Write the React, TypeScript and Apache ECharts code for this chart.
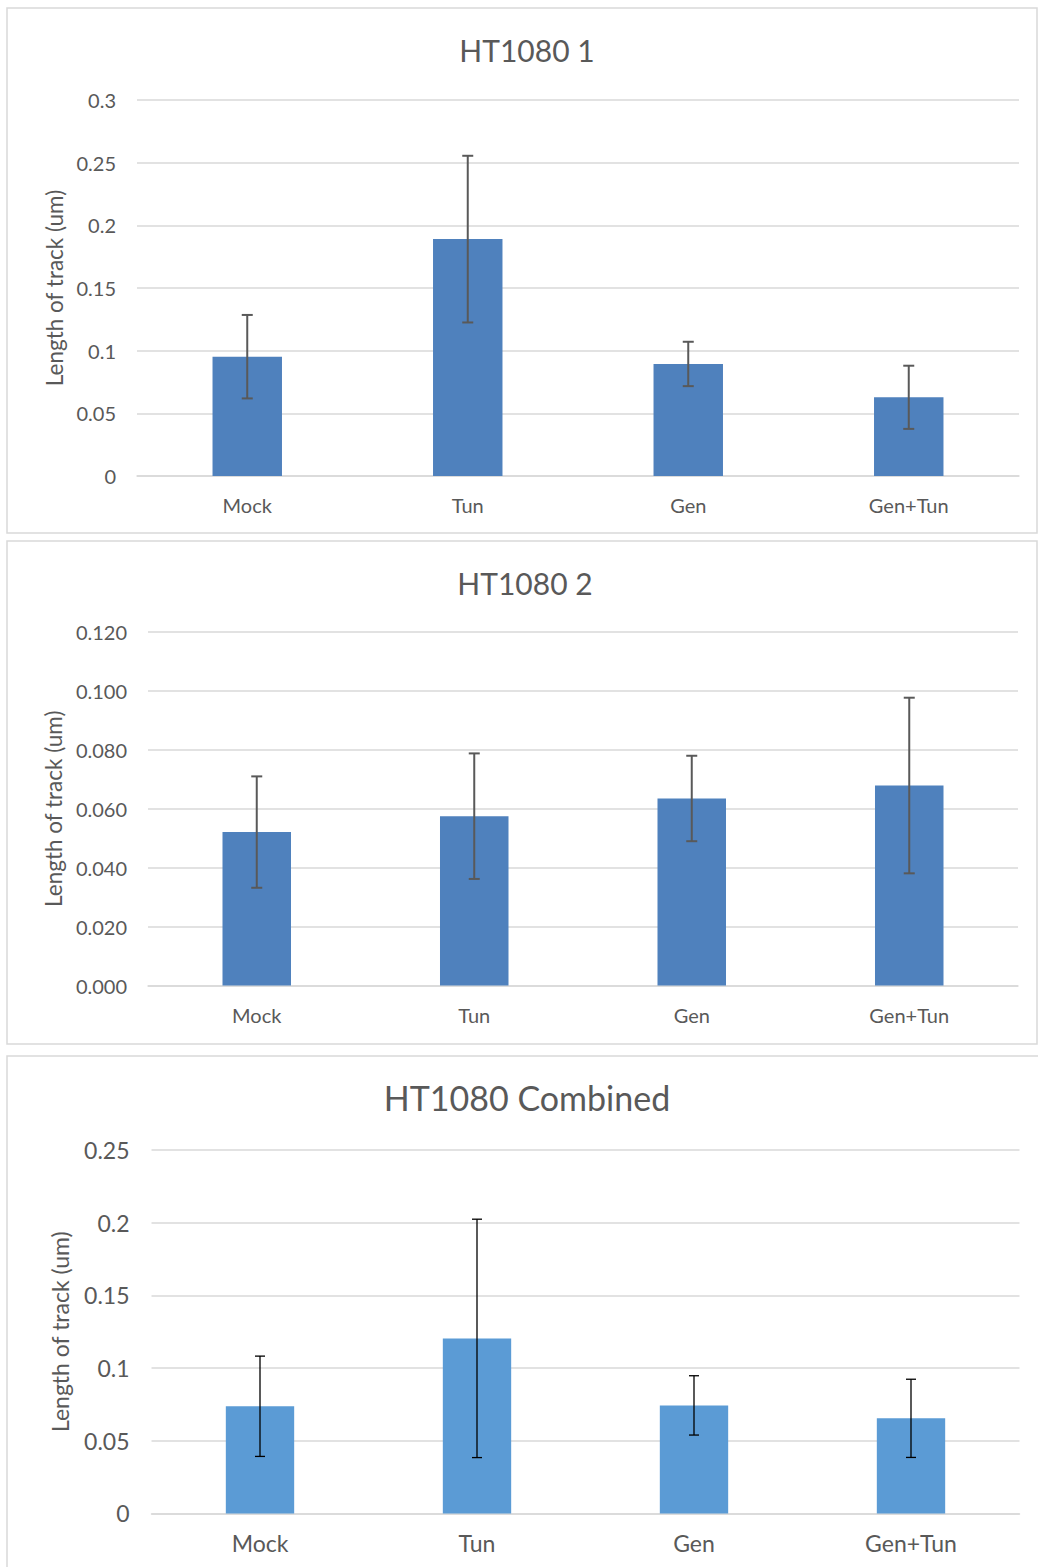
import React, { useEffect, useRef } from "react";
import * as echarts from "echarts";

const categories = ["Mock", "Tun", "Gen", "Gen+Tun"];

const p1Title = "HT1080 1";
const p1Means = [0.0952, 0.189, 0.0894, 0.0628];
const p1Errors = [0.0333, 0.0665, 0.0177, 0.0252];

const p2Title = "HT1080 2";
const p2Means = [0.0521, 0.0575, 0.0635, 0.0679];
const p2Errors = [0.0189, 0.0213, 0.0145, 0.0298];

const p3Title = "HT1080 Combined";
const p3Means = [0.0737, 0.1204, 0.0743, 0.0654];
const p3Errors = [0.0345, 0.082, 0.0204, 0.0269];

const yName = "Length of track (um)";

const FONT = "Lato, 'Open Sans', sans-serif";
const TXT = "#595959";
const GRID = "#d9d9d9";

type Panel = {
  title: string;
  means: number[];
  errors: number[];
  grid: { left: number; top: number; width: number; height: number };
  yMax: number;
  yInterval: number;
  fmt: (v: number) => string;
  barColor: string;
  errColor: string;
  errWidth: number;
  capW: number;
  tickFont: number;
  catFont: number;
  nameFont: number;
  nameGap: number;
  labelMargin: number;
  catMargin: number;
};

const panels: Panel[] = [
  {
    title: p1Title,
    means: p1Means,
    errors: p1Errors,
    grid: { left: 137, top: 100, width: 882, height: 376 },
    yMax: 0.3,
    yInterval: 0.05,
    fmt: (v) => String(+v.toFixed(2)),
    barColor: "#4f81bd",
    errColor: "#595959",
    errWidth: 2,
    capW: 11,
    tickFont: 20,
    catFont: 20,
    nameFont: 22.5,
    nameGap: 70.5,
    labelMargin: 21,
    catMargin: 19,
  },
  {
    title: p2Title,
    means: p2Means,
    errors: p2Errors,
    grid: { left: 148, top: 632, width: 870, height: 353.6 },
    yMax: 0.12,
    yInterval: 0.02,
    fmt: (v) => v.toFixed(3),
    barColor: "#4f81bd",
    errColor: "#595959",
    errWidth: 2,
    capW: 11,
    tickFont: 20,
    catFont: 20,
    nameFont: 22.5,
    nameGap: 81.5,
    labelMargin: 21,
    catMargin: 19,
  },
  {
    title: p3Title,
    means: p3Means,
    errors: p3Errors,
    grid: { left: 151.5, top: 1150, width: 868, height: 363.4 },
    yMax: 0.25,
    yInterval: 0.05,
    fmt: (v) => String(+v.toFixed(2)),
    barColor: "#5b9bd5",
    errColor: "#000000",
    errWidth: 1.3,
    capW: 10,
    tickFont: 23,
    catFont: 23,
    nameFont: 23,
    nameGap: 80,
    labelMargin: 22,
    catMargin: 18,
  },
];

const titlePos = [
  { x: 527, y: 50, size: 30 },
  { x: 525, y: 583, size: 30 },
  { x: 527, y: 1097, size: 34 },
];

const frames = [
  { x: 7, y: 8, w: 1030, h: 525 },
  { x: 7, y: 541, w: 1030, h: 503 },
  { x: 7, y: 1056, w: 1040, h: 520 },
];

export default function App() {
  const ref = useRef<HTMLDivElement>(null);
  useEffect(() => {
    if (!ref.current) return;
    const chart = echarts.init(ref.current, undefined, { renderer: "svg" });
    const grids: any[] = [];
    const xAxes: any[] = [];
    const yAxes: any[] = [];
    const series: any[] = [];
    panels.forEach((p, i) => {
      grids.push({ ...p.grid, containLabel: false });
      xAxes.push({
        type: "category",
        gridIndex: i,
        data: categories,
        axisTick: { show: false },
        axisLine: { show: true, lineStyle: { color: GRID, width: 1.5 } },
        axisLabel: {
          color: TXT,
          fontSize: p.catFont,
          fontFamily: FONT,
          margin: p.catMargin,
        },
      });
      yAxes.push({
        type: "value",
        gridIndex: i,
        min: 0,
        max: p.yMax,
        interval: p.yInterval,
        name: yName,
        nameLocation: "middle",
        nameRotate: 90,
        nameGap: p.nameGap,
        nameTextStyle: { color: TXT, fontSize: p.nameFont, fontFamily: FONT },
        axisLine: { show: false },
        axisTick: { show: false },
        splitLine: { show: true, lineStyle: { color: GRID, width: 1.5 } },
        axisLabel: {
          color: TXT,
          fontSize: p.tickFont,
          fontFamily: FONT,
          margin: p.labelMargin,
          formatter: p.fmt,
        },
      });
      series.push({
        type: "bar",
        xAxisIndex: i,
        yAxisIndex: i,
        data: p.means,
        barWidth: "31.5%",
        itemStyle: { color: p.barColor },
        z: 2,
      });
      series.push({
        type: "custom",
        xAxisIndex: i,
        yAxisIndex: i,
        z: 3,
        data: p.means.map((m, k) => [k, m - p.errors[k], m + p.errors[k]]),
        encode: { x: 0, y: [1, 2] },
        renderItem: (params: any, api: any) => {
          const x = api.value(0);
          const lo = api.coord([x, api.value(1)]);
          const hi = api.coord([x, api.value(2)]);
          const h = p.capW / 2;
          const style = { stroke: p.errColor, lineWidth: p.errWidth };
          return {
            type: "group",
            children: [
              { type: "line", shape: { x1: hi[0], y1: hi[1], x2: lo[0], y2: lo[1] }, style },
              { type: "line", shape: { x1: hi[0] - h, y1: hi[1], x2: hi[0] + h, y2: hi[1] }, style },
              { type: "line", shape: { x1: lo[0] - h, y1: lo[1], x2: lo[0] + h, y2: lo[1] }, style },
            ],
          };
        },
      });
    });

    const graphic: any[] = [];
    frames.forEach((f) => {
      graphic.push({
        type: "rect",
        shape: { x: f.x, y: f.y, width: f.w, height: f.h },
        style: { fill: "none", stroke: GRID, lineWidth: 1.5 },
        silent: true,
      });
    });
    panels.forEach((p, i) => {
      graphic.push({
        type: "text",
        x: titlePos[i].x,
        y: titlePos[i].y,
        style: {
          text: p.title,
          fill: TXT,
          fontSize: titlePos[i].size,
          fontFamily: FONT,
          textAlign: "center",
          textVerticalAlign: "middle",
        },
      });
    });

    chart.setOption({
      animation: false,
      backgroundColor: "#ffffff",
      grid: grids,
      xAxis: xAxes,
      yAxis: yAxes,
      series,
      graphic,
    });
    return () => chart.dispose();
  }, []);
  return (
    <div
      ref={ref}
      style={{ position: "absolute", left: 0, top: 0, width: 1038, height: 1567 }}
    />
  );
}
